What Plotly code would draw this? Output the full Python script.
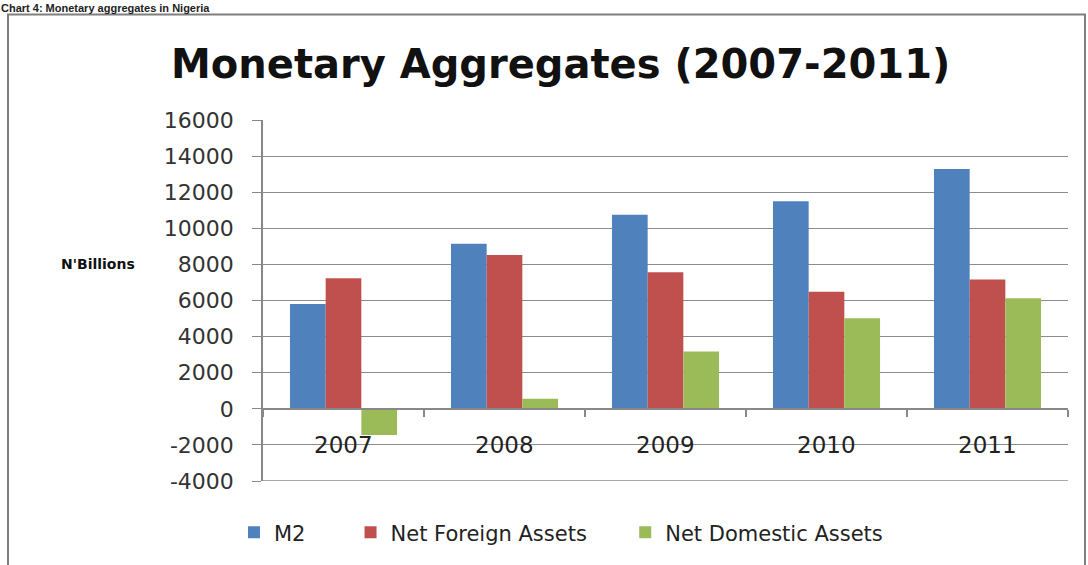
import plotly.graph_objects as go

# Monetary aggregates, N' billions
years = ["2007", "2008", "2009", "2010", "2011"]
m2 = [5800, 9150, 10750, 11500, 13280]
net_foreign_assets = [7230, 8520, 7570, 6480, 7160]
net_domestic_assets = [-1450, 560, 3180, 5020, 6120]
y_ticks = [-4000, -2000, 0, 2000, 4000, 6000, 8000, 10000, 12000, 14000, 16000]
series_names = ["M2", "Net Foreign Assets", "Net Domestic Assets"]

W, H = 1088, 565
ML, MR, MT, MB = 263, 20, 120, 82
PW, PH = W - ML - MR, H - MT - MB


def px(x):
    return (x - ML) / PW


def py(y):
    return (H - MB - y) / PH


xpos = list(range(len(years)))
font = "DejaVu Sans"
grid = "#8c8c8c"
pad = "\u00a0"  # non-breaking space to widen legend spacing

fig = go.Figure()
for name, vals, col, trail in [
    (series_names[0], m2, "#4f81bd", 6),
    (series_names[1], net_foreign_assets, "#c0504d", 5),
    (series_names[2], net_domestic_assets, "#9bbb59", 0),
]:
    fig.add_trace(go.Bar(x=xpos, y=vals, name=name + pad * trail,
                         marker=dict(color=col, line=dict(width=0))))

fig.update_layout(
    width=W, height=H,
    margin=dict(l=ML, r=MR, t=MT, b=MB),
    paper_bgcolor="white", plot_bgcolor="white",
    barmode="group", bargap=0.335, bargroupgap=0,
    font=dict(family=font, color="#333333"),
    legend=dict(
        orientation="h", x=px(561), y=py(535), xanchor="center", yanchor="middle",
        xref="paper", yref="paper",
        font=dict(family=font, size=21, color="#222222"),
        itemwidth=30, traceorder="normal",
    ),
    xaxis=dict(
        range=[-0.5, len(years) - 0.5],
        tickvals=[i - 0.5 for i in range(len(years) + 1)],
        ticktext=[""] * (len(years) + 1),
        ticks="outside", ticklen=7, tickcolor="#888888", tickwidth=1.5,
        showgrid=False, zeroline=False, showline=True, linecolor="#888888", linewidth=1.5,
        anchor="free", position=py(411),
    ),
    yaxis=dict(
        range=[-4000, 16000], tickvals=y_ticks, ticktext=[str(v) for v in y_ticks],
        showgrid=True, gridcolor=grid, gridwidth=1.3,
        zeroline=False, showline=True, linecolor="#888888", linewidth=1.5,
        ticks="outside", ticklen=9, tickcolor="#888888",
        ticklabelstandoff=14,
        tickfont=dict(family=font, size=22, color="#333333"),
    ),
)

# bottom gridline at the lower end of the value range
fig.add_shape(type="line", xref="paper", yref="y", x0=0, x1=1, y0=-4000, y1=-4000,
              line=dict(color=grid, width=1.3))

# Category labels sit just below the zero line
for i, yr in enumerate(years):
    fig.add_annotation(x=i, y=-2000, xref="x", yref="y", text=yr, showarrow=False,
                       font=dict(family=font, size=23, color="#222222"))

fig.add_annotation(x=px(560), y=py(64), xref="paper", yref="paper",
                   text="<b>Monetary Aggregates (2007-2011)</b>", showarrow=False,
                   font=dict(family=font, size=40, color="#111111"),
                   xanchor="center", yanchor="middle")

fig.add_annotation(x=px(98), y=py(265), xref="paper", yref="paper",
                   text="<b>N'Billions</b>", showarrow=False,
                   font=dict(family=font, size=14, color="#111111"),
                   xanchor="center", yanchor="middle")

fig.add_annotation(x=px(0), y=py(0), xref="paper", yref="paper",
                   text="<b>Chart 4: Monetary aggregates in Nigeria</b>", showarrow=False,
                   font=dict(family="Liberation Sans", size=11, color="#222222"),
                   xanchor="left", yanchor="top", borderpad=0)

# outer frame
fig.add_shape(type="rect", xref="paper", yref="paper",
              x0=px(8), x1=px(1085), y0=py(575), y1=py(14),
              line=dict(color="#7f7f7f", width=2), fillcolor="rgba(0,0,0,0)", layer="below")

fig.write_html("out.html")
